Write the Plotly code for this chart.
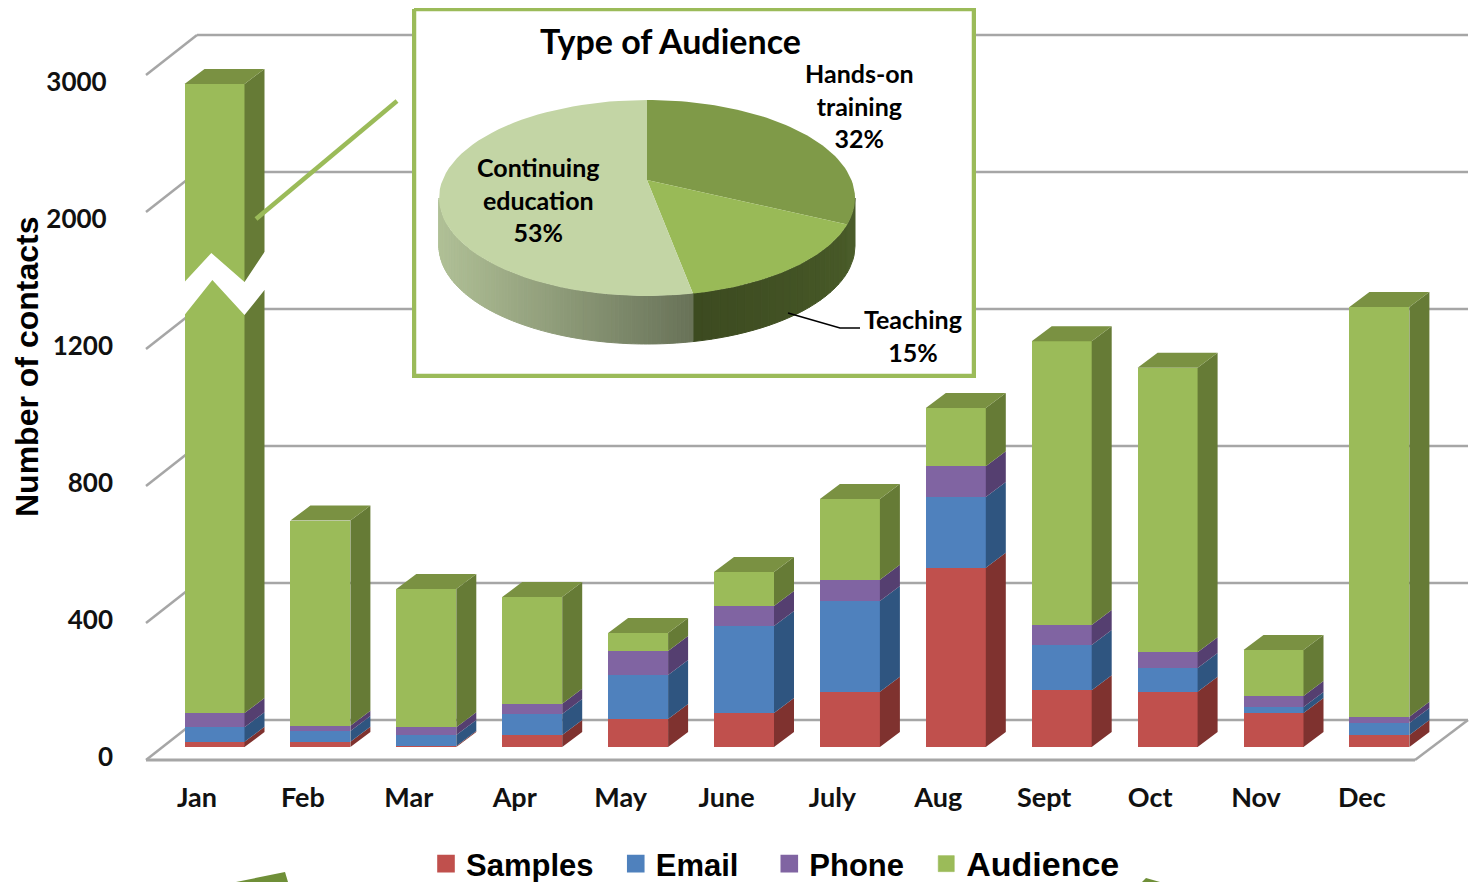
import math
import plotly.graph_objects as go

# ---------- data ----------
months = ["Jan", "Feb", "Mar", "Apr", "May", "June", "July", "Aug", "Sept", "Oct", "Nov", "Dec"]
samples = [15, 15, 3, 35, 82, 99, 161, 523, 166, 161, 99, 35]
email = [43, 32, 32, 61, 128, 254, 265, 207, 132, 70, 18, 35]
phone = [41, 15, 23, 30, 70, 59, 62, 90, 58, 46, 32, 18]
audience = [2741, 599, 403, 312, 53, 99, 236, 170, 829, 830, 134, 1282]
y_ticks = [0, 400, 800, 1200, 2000, 3000]
pie_labels = ["Hands-on<br>training<br>32%", "Teaching<br>15%", "Continuing<br>education<br>53%"]
pie_shares = [32, 15, 53]

series_names = ["Samples", "Email", "Phone", "Audience"]
front_colors = ["#C0504D", "#4F81BD", "#8064A2", "#9BBB59"]
side_colors = ["#7F322F", "#2F5580", "#553F70", "#667B36"]
top_color = "#7A9142"
pie_colors = ["#7F9A48", "#99BA57", "#C3D5A5"]

# ---------- page geometry (page pixels; the page body adds an 8 px margin) ----------
W, H, PAGE = 1479, 882, 8
FW, FH = W - PAGE, H - PAGE
BASE_PX, UNIT_PX = 747.0, 137.0 / 400.0   # pixel of value 0, pixels per axis unit
STEP_PX, FIRST_PX = 105.9, 214.5          # pixels per category, centre of the first
LEFT_PX, BOTTOM_PX = 114.0, 772.0         # plot-area corner
BAR_W = 60.0 / STEP_PX
DX, DY = 20.0 / STEP_PX, 15.0 / UNIT_PX   # bar depth


def px_x(p):
    return (p - FIRST_PX) / STEP_PX


def dy_px(p):
    return p / UNIT_PX


def paper_x(p):
    return (p - PAGE) / FW


def paper_y(p):
    return 1 - (p - PAGE) / FH


def pos(v):
    """Broken axis: 0-1200 linear, then 1200-2000 and 2000-3000 compressed."""
    if v <= 1200:
        return v
    if v <= 2000:
        return 1200 + (v - 1200) * 0.5
    return 1600 + (v - 2000) * 0.4


fig = go.Figure()
idx = list(range(len(months)))
stacks = [samples, email, phone, audience]
cum = [0] * len(months)
bounds = []
for s in stacks:
    new = [c + v for c, v in zip(cum, s)]
    bounds.append(([pos(c) for c in cum], [pos(n) for n in new]))
    cum = new

# ---------- bars: front faces ----------
for name, color, (lo, hi) in zip(series_names, front_colors, bounds):
    fig.add_trace(go.Bar(x=idx, y=[b - a for a, b in zip(lo, hi)], base=lo, width=BAR_W, name=name,
                         marker=dict(color=color, line=dict(width=0)), showlegend=False, cliponaxis=False))

# ---------- bars: side faces ----------
for name, color, (lo, hi) in zip(series_names, side_colors, bounds):
    xs, ys = [], []
    for i, a, b in zip(idx, lo, hi):
        r = i + BAR_W / 2
        xs += [r, r + DX, r + DX, r, r, None]
        ys += [a, a + DY, b + DY, b, a, None]
    fig.add_trace(go.Scatter(x=xs, y=ys, mode="lines", fill="toself", fillcolor=color,
                             line=dict(width=0, color=color), hoverinfo="skip", showlegend=False, cliponaxis=False))

# ---------- bars: top faces ----------
xs, ys = [], []
for i, t in zip(idx, bounds[-1][1]):
    l, r = i - BAR_W / 2, i + BAR_W / 2
    xs += [l, r, r + DX, l + DX, l, None]
    ys += [t, t, t + DY, t + DY, t, None]
fig.add_trace(go.Scatter(x=xs, y=ys, mode="lines", fill="toself", fillcolor=top_color,
                         line=dict(width=0, color=top_color), hoverinfo="skip", showlegend=False, cliponaxis=False))

# ---------- axis break on the tall bar ----------
c0 = idx[0]
brk = (BASE_PX - 282) / UNIT_PX
half = BAR_W / 2
upper = [(-half, 0), (-0.03, 29), (half, 0), (half + DX, 30), (half + DX + 0.05, 30)]
lower = [(half + DX + 0.05, -8), (half + DX, -8), (half, -33), (-0.02, 2), (-half, -33), (-half - 0.03, -33), (-half - 0.03, 0)]
bx = [c0 + a for a, _ in upper + lower] + [c0 - half]
by = [brk + dy_px(b) for _, b in upper + lower] + [brk]
fig.add_trace(go.Scatter(x=bx, y=by, mode="lines", fill="toself", fillcolor="#FFFFFF",
                         line=dict(width=0, color="#FFFFFF"), hoverinfo="skip", showlegend=False, cliponaxis=False))

# ---------- connector from the tall bar to the inset ----------
fig.add_trace(go.Scatter(x=[px_x(256), px_x(397)], y=[(BASE_PX - 219) / UNIT_PX, (BASE_PX - 101) / UNIT_PX],
                         mode="lines", line=dict(color="#9BBB59", width=4.5), hoverinfo="skip",
                         showlegend=False, cliponaxis=False))

# ---------- legend-only markers ----------
legend_line = [1.6, 1.6, 1.6, 0.6]
legend_labels = ["Samples\u00a0\u00a0", "Email\u00a0\u00a0\u00a0", "Phone\u00a0\u00a0", '<span style="font-size:34px">Audience</span>']
for label, color, lw in zip(legend_labels, front_colors, legend_line):
    fig.add_trace(go.Scatter(x=[None], y=[None], mode="markers", name=label,
                             marker=dict(symbol="square", size=16, color=color, line=dict(color=color, width=lw))))

# ---------- inset: frame and 3-D pie (x2/y2 are pixel-sized units, origin at the apex) ----------
AX, AY = 647.0, 180.0
CX, CY, RX, RY, DEPTH = 647.0, 198.0, 208.0, 98.0, 48.0
BOX = (412.0, 8.0, 976.0, 378.0)
FRAME = (414.0, 9.0, 974.0, 376.0)


def u(px, py):
    return px - AX, AY - py


def poly(points, color, line=0.0, line_color=None):
    xs = [u(*p)[0] for p in points]
    ys = [u(*p)[1] for p in points]
    fig.add_trace(go.Scatter(x=xs, y=ys, xaxis="x2", yaxis="y2", mode="lines", fill="toself", fillcolor=color,
                             line=dict(width=line, color=line_color or color), hoverinfo="skip",
                             showlegend=False, cliponaxis=False))


def rim(theta):
    """Point of the pie rim for a share angle measured clockwise from the top."""
    dx, dy = RX * math.sin(theta), RY * -math.cos(theta)
    ox, oy = AX - CX, AY - CY
    a = (dx / RX) ** 2 + (dy / RY) ** 2
    b = 2 * (dx * ox / RX ** 2 + dy * oy / RY ** 2)
    c = (ox / RX) ** 2 + (oy / RY) ** 2 - 1
    t = (-b + math.sqrt(b * b - 4 * a * c)) / (2 * a)
    return AX + dx * t, AY + dy * t


poly([(FRAME[0], FRAME[1]), (FRAME[2], FRAME[1]), (FRAME[2], FRAME[3]), (FRAME[0], FRAME[3]),
      (FRAME[0], FRAME[1])], "#FFFFFF", 4.5, "#9BBB59")

edges = [0.0]
for s in pie_shares:
    edges.append(edges[-1] + s / sum(pie_shares) * 2 * math.pi)


def phi_of(point):
    return math.atan2((point[1] - CY) / RY, (point[0] - CX) / RX)


def on_rim(phi, drop=0.0):
    return CX + RX * math.cos(phi), CY + RY * math.sin(phi) + drop


phi_a = phi_of(rim(edges[1]))
phi_b = phi_of(rim(edges[2]))


def wall(phi0, phi1, color):
    n = 6
    top = [on_rim(phi0 + (phi1 - phi0) * k / n) for k in range(n + 1)]
    bot = [on_rim(phi0 + (phi1 - phi0) * k / n, DEPTH) for k in range(n + 1)]
    poly(top + bot[::-1] + [top[0]], color, 1.0)


def lerp(c0, c1, t):
    return "rgb(%d,%d,%d)" % tuple(round(a + (b - a) * t) for a, b in zip(c0, c1))


wall(0.0, phi_a, "#4A5C2A")
strips = 24
for k in range(strips):
    p0 = phi_a + (phi_b - phi_a) * k / strips
    p1 = phi_a + (phi_b - phi_a) * (k + 1) / strips
    wall(p0, p1, lerp((72, 90, 40), (60, 74, 32), k / strips))
strips = 90
for k in range(strips):
    p0 = phi_b + (math.pi - phi_b) * k / strips
    p1 = phi_b + (math.pi - phi_b) * (k + 1) / strips
    t = (CX + RX * math.cos((p0 + p1) / 2) - 693) / (439 - 693)
    wall(p0, p1, lerp((104, 114, 88), (176, 192, 150), t))

# top slices
for a, b, color in zip(edges[:-1], edges[1:], pie_colors):
    n = 60
    pts = [rim(a + (b - a) * k / n) for k in range(n + 1)]
    poly([(AX, AY)] + pts + [(AX, AY)], color)

# teaching leader line
lead = [(788, 313), (840, 328), (860, 328)]
fig.add_trace(go.Scatter(x=[u(*p)[0] for p in lead], y=[u(*p)[1] for p in lead], xaxis="x2", yaxis="y2", mode="lines",
                         line=dict(color="#000000", width=1.5), hoverinfo="skip", showlegend=False, cliponaxis=False))

PIE_FONT = dict(family="Lato", size=25, color="#000000")
annotations = [
    dict(text="<b>Type of Audience</b>", xref="x2", yref="y2", x=u(670, 40)[0], y=u(670, 40)[1],
         showarrow=False, font=dict(family="Lato", size=34, color="#000000")),
    dict(text="<b>Number of contacts</b>", xref="paper", yref="paper", x=paper_x(27), y=paper_y(367), textangle=-90,
         xanchor="center", yanchor="middle", showarrow=False,
         font=dict(family="Liberation Sans", size=32, color="#000000")),
]
for label, (px, py) in zip(pie_labels, [(859, 105), (913, 335), (538, 199)]):
    annotations.append(dict(text="<b>" + label.replace("<br>", "</b><br><b>") + "</b>", xref="x2", yref="y2",
                            x=u(px, py)[0], y=u(px, py)[1], showarrow=False, font=PIE_FONT))

# ---------- floor and gridlines, below the bars ----------
front_shift_y = dy_px(13)
back_shift_y = dy_px(27)
fl, bl = px_x(146), px_x(197)
fr, br = px_x(1415), px_x(1468)
shapes = []
grid = dict(color="#A6A6A6", width=2.5)
for v in y_ticks:
    p = pos(v)
    shapes.append(dict(type="line", layer="below", xref="x", yref="y", x0=fl, x1=bl, y0=p - front_shift_y, y1=p + back_shift_y, line=grid))
    shapes.append(dict(type="line", layer="below", xref="x", yref="y", x0=bl, x1=br, y0=p + back_shift_y, y1=p + back_shift_y, line=grid))
shapes.append(dict(type="line", layer="below", xref="x", yref="y", x0=fl, x1=fr, y0=-front_shift_y, y1=-front_shift_y, line=dict(color="#A6A6A6", width=3)))
shapes.append(dict(type="line", layer="below", xref="x", yref="y", x0=fr, x1=br, y0=-front_shift_y, y1=back_shift_y, line=grid))

# cropped picture fragments along the bottom edge
shapes.append(dict(type="path", layer="above", xref="paper", yref="paper",
                   path=f"M{paper_x(236)},{paper_y(882)} L{paper_x(285)},{paper_y(872)} L{paper_x(288)},{paper_y(882)} Z",
                   fillcolor="#6F8F38", line=dict(width=0)))
shapes.append(dict(type="path", layer="above", xref="paper", yref="paper",
                   path=f"M{paper_x(1142)},{paper_y(882)} L{paper_x(1146)},{paper_y(878)} L{paper_x(1160)},{paper_y(882)} Z",
                   fillcolor="#6F8F38", line=dict(width=0)))

tick_lift = [dy_px(20) if v > 1200 else dy_px(10) for v in y_ticks]
tick_text = [f"{v}\u00a0" if v > 1200 else str(v) for v in y_ticks]

fig.update_layout(
    width=FW, height=FH, margin=dict(l=0, r=0, t=0, b=0, autoexpand=False), autosize=False,
    paper_bgcolor="#FFFFFF", plot_bgcolor="#FFFFFF", barmode="overlay", bargap=0,
    font=dict(family="Lato", color="#000000"),
    shapes=shapes, annotations=annotations,
    xaxis=dict(domain=[paper_x(LEFT_PX), 1], range=[px_x(LEFT_PX), px_x(W)], showgrid=False, zeroline=False, showline=False,
               tickmode="array", tickvals=[i - 17.5 / STEP_PX for i in idx], ticktext=[f"<b>{m}</b>" for m in months],
               ticks="", ticklabelstandoff=7, tickfont=dict(family="Lato", size=27, color="#111111")),
    yaxis=dict(domain=[paper_y(BOTTOM_PX), 1], range=[(BASE_PX - BOTTOM_PX) / UNIT_PX, (BASE_PX - PAGE) / UNIT_PX], showgrid=False,
               zeroline=False, showline=False, tickmode="array",
               tickvals=[pos(v) - s for v, s in zip(y_ticks, tick_lift)], ticktext=[f"<b>{t}</b>" for t in tick_text],
               ticks="", tickfont=dict(family="Lato", size=26, color="#111111")),
    xaxis2=dict(domain=[paper_x(BOX[0]), paper_x(BOX[2])], range=[BOX[0] - AX, BOX[2] - AX], visible=False, anchor="y2", fixedrange=True),
    yaxis2=dict(domain=[paper_y(BOX[3]), paper_y(BOX[1])], range=[AY - BOX[3], AY - BOX[1]], visible=False, anchor="x2", fixedrange=True),
    legend=dict(orientation="h", x=paper_x(426), xanchor="left", y=paper_y(864), yanchor="middle",
                traceorder="normal", bgcolor="rgba(0,0,0,0)", borderwidth=0,
                font=dict(family="Liberation Sans", size=31, color="#000000", weight="bold")),
)

fig.write_html("out.html")
